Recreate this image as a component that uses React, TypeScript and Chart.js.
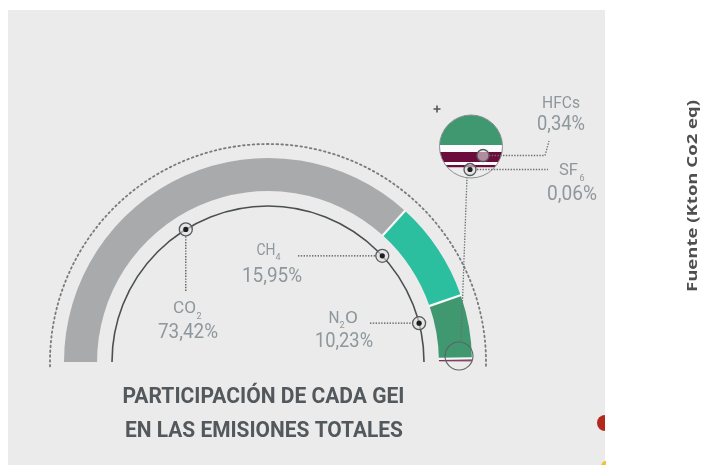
import React, { useEffect, useRef } from "react";
import { Chart, registerables } from "chart.js";

Chart.register(...registerables);

// ---- data ----
const gases = ["CO2", "CH4", "N2O", "HFCs", "SF6"];
const shares = [73.42, 15.95, 10.23, 0.34, 0.06];
const shareLabels = ["73,42%", "15,95%", "10,23%", "0,34%", "0,06%"];
const colors = ["#a8aaac", "#2cbf9f", "#3f9870", "#6b0c3c", "#6b0c3c"];
const titleLines = ["PARTICIPACIÓN DE CADA GEI", "EN LAS EMISIONES TOTALES"];
const sideLabel = "Fuente (Kton Co2 eq)";

const LABEL_COLOR = "#8e979c";
const LINE_COLOR = "#4d5356";

function txt(
  ctx: CanvasRenderingContext2D,
  s: string,
  x: number,
  y: number,
  font: string,
  color: string,
  width?: number,
  align: CanvasTextAlign = "center"
) {
  ctx.save();
  ctx.font = font;
  const w = ctx.measureText(s).width;
  const sx = width ? width / w : 1;
  ctx.translate(x, y);
  ctx.scale(sx, 1);
  ctx.textAlign = align;
  ctx.textBaseline = "alphabetic";
  ctx.fillStyle = color;
  ctx.fillText(s, 0, 0);
  ctx.restore();
}

function marker(ctx: CanvasRenderingContext2D, x: number, y: number, r = 6.5, dot = true) {
  ctx.save();
  ctx.beginPath();
  ctx.arc(x, y, r, 0, Math.PI * 2);
  ctx.fillStyle = "rgba(225,225,225,0.6)";
  ctx.fill();
  ctx.lineWidth = 1.3;
  ctx.strokeStyle = "#555a5d";
  ctx.stroke();
  if (dot) {
    ctx.beginPath();
    ctx.arc(x, y, 2.6, 0, Math.PI * 2);
    ctx.fillStyle = "#1e1e1e";
    ctx.fill();
  }
  ctx.restore();
}

function dotted(ctx: CanvasRenderingContext2D, pts: number[][], color = LINE_COLOR) {
  ctx.save();
  ctx.setLineDash([1.4, 1.4]);
  ctx.lineWidth = 1.3;
  ctx.strokeStyle = color;
  ctx.beginPath();
  pts.forEach((p, i) => (i ? ctx.lineTo(p[0], p[1]) : ctx.moveTo(p[0], p[1])));
  ctx.stroke();
  ctx.restore();
}

const backgroundPlugin = {
  id: "panelBg",
  beforeDraw(chart: any) {
    const ctx = chart.ctx as CanvasRenderingContext2D;
    ctx.save();
    ctx.fillStyle = "#ffffff";
    ctx.fillRect(0, 0, chart.width, chart.height);
    ctx.fillStyle = "#ebebeb";
    ctx.fillRect(8, 10, 597, chart.height - 10);
    ctx.restore();
  },
};

const decorPlugin = {
  id: "decor",
  afterDatasetsDraw(chart: any) {
    const ctx = chart.ctx as CanvasRenderingContext2D;
    const meta = chart.getDatasetMeta(0);
    const arcs = meta.data as any[];
    const a0 = arcs[0];
    const cx = a0.x;
    const cy = a0.y;
    const R = a0.outerRadius;
    const r0 = a0.innerRadius;
    const rIn = R * (156 / 204);
    const rDot = R * (218 / 204);
    const NARROW = "400 20px Roboto";
    const CHEM = "400 17px Roboto";
    const SUB = "400 9px Roboto";

    // white separators between segments (drawn on the preceding segment side for the tiny ones)
    ctx.save();
    ctx.strokeStyle = "#f8f8f8";
    for (let i = 1; i < arcs.length; i++) {
      const a = arcs[i].startAngle;
      const lw = i === 4 ? 0.8 : 2.2;
      const shift = i >= 3 ? -(lw / 2) / ((R + r0) / 2) : 0;
      const ang = a + shift;
      ctx.lineWidth = lw;
      ctx.beginPath();
      ctx.moveTo(cx + (r0 - 0.5) * Math.cos(ang), cy + (r0 - 0.5) * Math.sin(ang));
      ctx.lineTo(cx + (R + 0.5) * Math.cos(ang), cy + (R + 0.5) * Math.sin(ang));
      ctx.stroke();
    }
    ctx.restore();

    // dotted outer arc
    ctx.save();
    ctx.setLineDash([1.6, 3.2]);
    ctx.lineCap = "round";
    ctx.lineWidth = 1.8;
    ctx.strokeStyle = "#767b7e";
    ctx.beginPath();
    ctx.arc(cx, cy, rDot, Math.PI - 0.02, Math.PI * 2 + 0.02);
    ctx.stroke();
    ctx.restore();

    // inner thin arc
    ctx.save();
    ctx.lineWidth = 1.6;
    ctx.strokeStyle = "#4a4f52";
    ctx.beginPath();
    ctx.arc(cx, cy, rIn, Math.PI, Math.PI * 2);
    ctx.stroke();
    ctx.restore();

    // markers on inner arc
    const mAng = [-121.8, -42.9, -14.4].map((d) => (d * Math.PI) / 180);
    const mp = mAng.map((a) => [cx + rIn * Math.cos(a), cy + rIn * Math.sin(a)]);

    // CO2
    dotted(ctx, [[mp[0][0], mp[0][1] + 7], [mp[0][0], 292]]);
    marker(ctx, mp[0][0], mp[0][1]);
    txt(ctx, "CO", 184.5, 313, CHEM, LABEL_COLOR, 23);
    txt(ctx, "2", 199, 319, SUB, LABEL_COLOR, undefined);
    txt(ctx, shareLabels[0], 188, 338, NARROW, LABEL_COLOR, 60);

    // CH4
    dotted(ctx, [[298, mp[1][1]], [mp[1][0] - 7, mp[1][1]]]);
    marker(ctx, mp[1][0], mp[1][1]);
    txt(ctx, "CH", 266, 255, CHEM, LABEL_COLOR, 19);
    txt(ctx, "4", 278, 260, SUB, LABEL_COLOR);
    txt(ctx, shareLabels[1], 272, 282, NARROW, LABEL_COLOR, 60);

    // N2O
    dotted(ctx, [[370, mp[2][1]], [mp[2][0] - 7, mp[2][1]]]);
    marker(ctx, mp[2][0], mp[2][1]);
    txt(ctx, "N", 334, 323, CHEM, LABEL_COLOR, 11);
    txt(ctx, "2", 342, 328, SUB, LABEL_COLOR);
    txt(ctx, "O", 351.5, 323, CHEM, LABEL_COLOR, 13);
    txt(ctx, shareLabels[2], 344, 347, NARROW, LABEL_COLOR, 58);

    // ring at the end of the gauge
    ctx.save();
    ctx.lineWidth = 1.1;
    ctx.strokeStyle = "#5d6366";
    ctx.beginPath();
    ctx.arc(459, 356, 14, 0, Math.PI * 2);
    ctx.stroke();
    ctx.restore();

    // vertical dotted link to magnifier
    dotted(ctx, [[467, 177], [461, 342]], "#6a7073");

    // magnifier
    const mx = 471, my = 146.5, mr = 31.5;
    ctx.save();
    ctx.beginPath();
    ctx.arc(mx, my, mr, 0, Math.PI * 2);
    ctx.clip();
    ctx.fillStyle = "#f4f4f4";
    ctx.fillRect(mx - mr, my - mr, mr * 2, mr * 2);
    ctx.fillStyle = colors[2];
    ctx.fillRect(mx - mr, my - mr, mr * 2, 145 - (my - mr));
    ctx.fillStyle = "#fbfbfb";
    ctx.fillRect(mx - mr, 145, mr * 2, 7);
    ctx.fillStyle = colors[3];
    ctx.fillRect(mx - mr, 152, mr * 2, 10);
    ctx.fillStyle = "#fbfbfb";
    ctx.fillRect(mx - mr, 162, mr * 2, 3);
    ctx.fillStyle = colors[4];
    ctx.fillRect(mx - mr, 165, mr * 2, 2.5);
    ctx.fillStyle = "#ededed";
    ctx.fillRect(mx - mr, 167.5, mr * 2, 20);
    ctx.restore();
    ctx.save();
    ctx.lineWidth = 1;
    ctx.strokeStyle = "#8a8f92";
    ctx.beginPath();
    ctx.arc(mx, my, mr, 0, Math.PI * 2);
    ctx.stroke();
    ctx.restore();

    // plus sign
    ctx.save();
    ctx.lineWidth = 1.6;
    ctx.strokeStyle = "#555";
    ctx.beginPath();
    ctx.moveTo(433.5, 109); ctx.lineTo(440.5, 109);
    ctx.moveTo(437, 105.5); ctx.lineTo(437, 112.5);
    ctx.stroke();
    ctx.restore();

    // HFCs
    dotted(ctx, [[489, 155.5], [545, 155.5], [549, 141]], "#6a7073");
    marker(ctx, 483, 155.5, 6, false);
    txt(ctx, gases[3], 561, 108, CHEM, LABEL_COLOR, 38);
    txt(ctx, shareLabels[3], 561, 130, NARROW, LABEL_COLOR, 48);

    // SF6
    dotted(ctx, [[477, 169.5], [548, 169.5]], "#6a7073");
    marker(ctx, 470, 169.5, 6, true);
    txt(ctx, "SF", 568.5, 175, CHEM, LABEL_COLOR, 19);
    txt(ctx, "6", 582, 181, SUB, LABEL_COLOR);
    txt(ctx, shareLabels[4], 572, 200, NARROW, LABEL_COLOR, 50);

    // title
    txt(ctx, titleLines[0], 263.5, 403, "700 22px Roboto", "#52585c", 282);
    txt(ctx, titleLines[1], 264, 437, "700 22px Roboto", "#52585c", 278);

    // side label (rotated)
    ctx.save();
    ctx.translate(697, 196);
    ctx.rotate(-Math.PI / 2);
    ctx.font = "700 14px 'Open Sans'";
    const w = ctx.measureText(sideLabel).width;
    ctx.scale(192 / w, 1);
    ctx.textAlign = "center";
    ctx.fillStyle = "#4f4f4f";
    ctx.fillText(sideLabel, 0, 0);
    ctx.restore();

    // fragments of neighbouring graphic at right edge
    ctx.save();
    ctx.fillStyle = "#b3281c";
    ctx.beginPath();
    ctx.arc(605, 423, 8, Math.PI / 2, (Math.PI * 3) / 2);
    ctx.fill();
    ctx.fillStyle = "#f0c23a";
    ctx.beginPath();
    ctx.arc(606, 466, 5, Math.PI, (Math.PI * 3) / 2);
    ctx.lineTo(606, 466);
    ctx.fill();
    ctx.restore();
  },
};

export default function App() {
  const ref = useRef<HTMLCanvasElement | null>(null);
  useEffect(() => {
    if (!ref.current) return;
    const chart = new Chart(ref.current, {
      type: "doughnut",
      data: {
        labels: gases,
        datasets: [
          {
            data: shares,
            backgroundColor: colors,
            borderWidth: 0,
          },
        ],
      },
      options: {
        responsive: false,
        animation: false,
        devicePixelRatio: 1,
        events: [],
        circumference: 180,
        rotation: -90,
        radius: 204,
        cutout: "83.8%",
        layout: { padding: { left: 0, right: 168, top: 55, bottom: 0 } },
        plugins: {
          legend: { display: false },
          tooltip: { enabled: false },
          title: { display: false },
        },
      } as any,
      plugins: [backgroundPlugin, decorPlugin],
    });
    return () => chart.destroy();
  }, []);
  return (
    <div style={{ position: "fixed", left: 0, top: 0, width: 704, height: 465, background: "#fff" }}>
      <canvas ref={ref} width={704} height={465} style={{ width: 704, height: 465, display: "block" }} />
    </div>
  );
}
